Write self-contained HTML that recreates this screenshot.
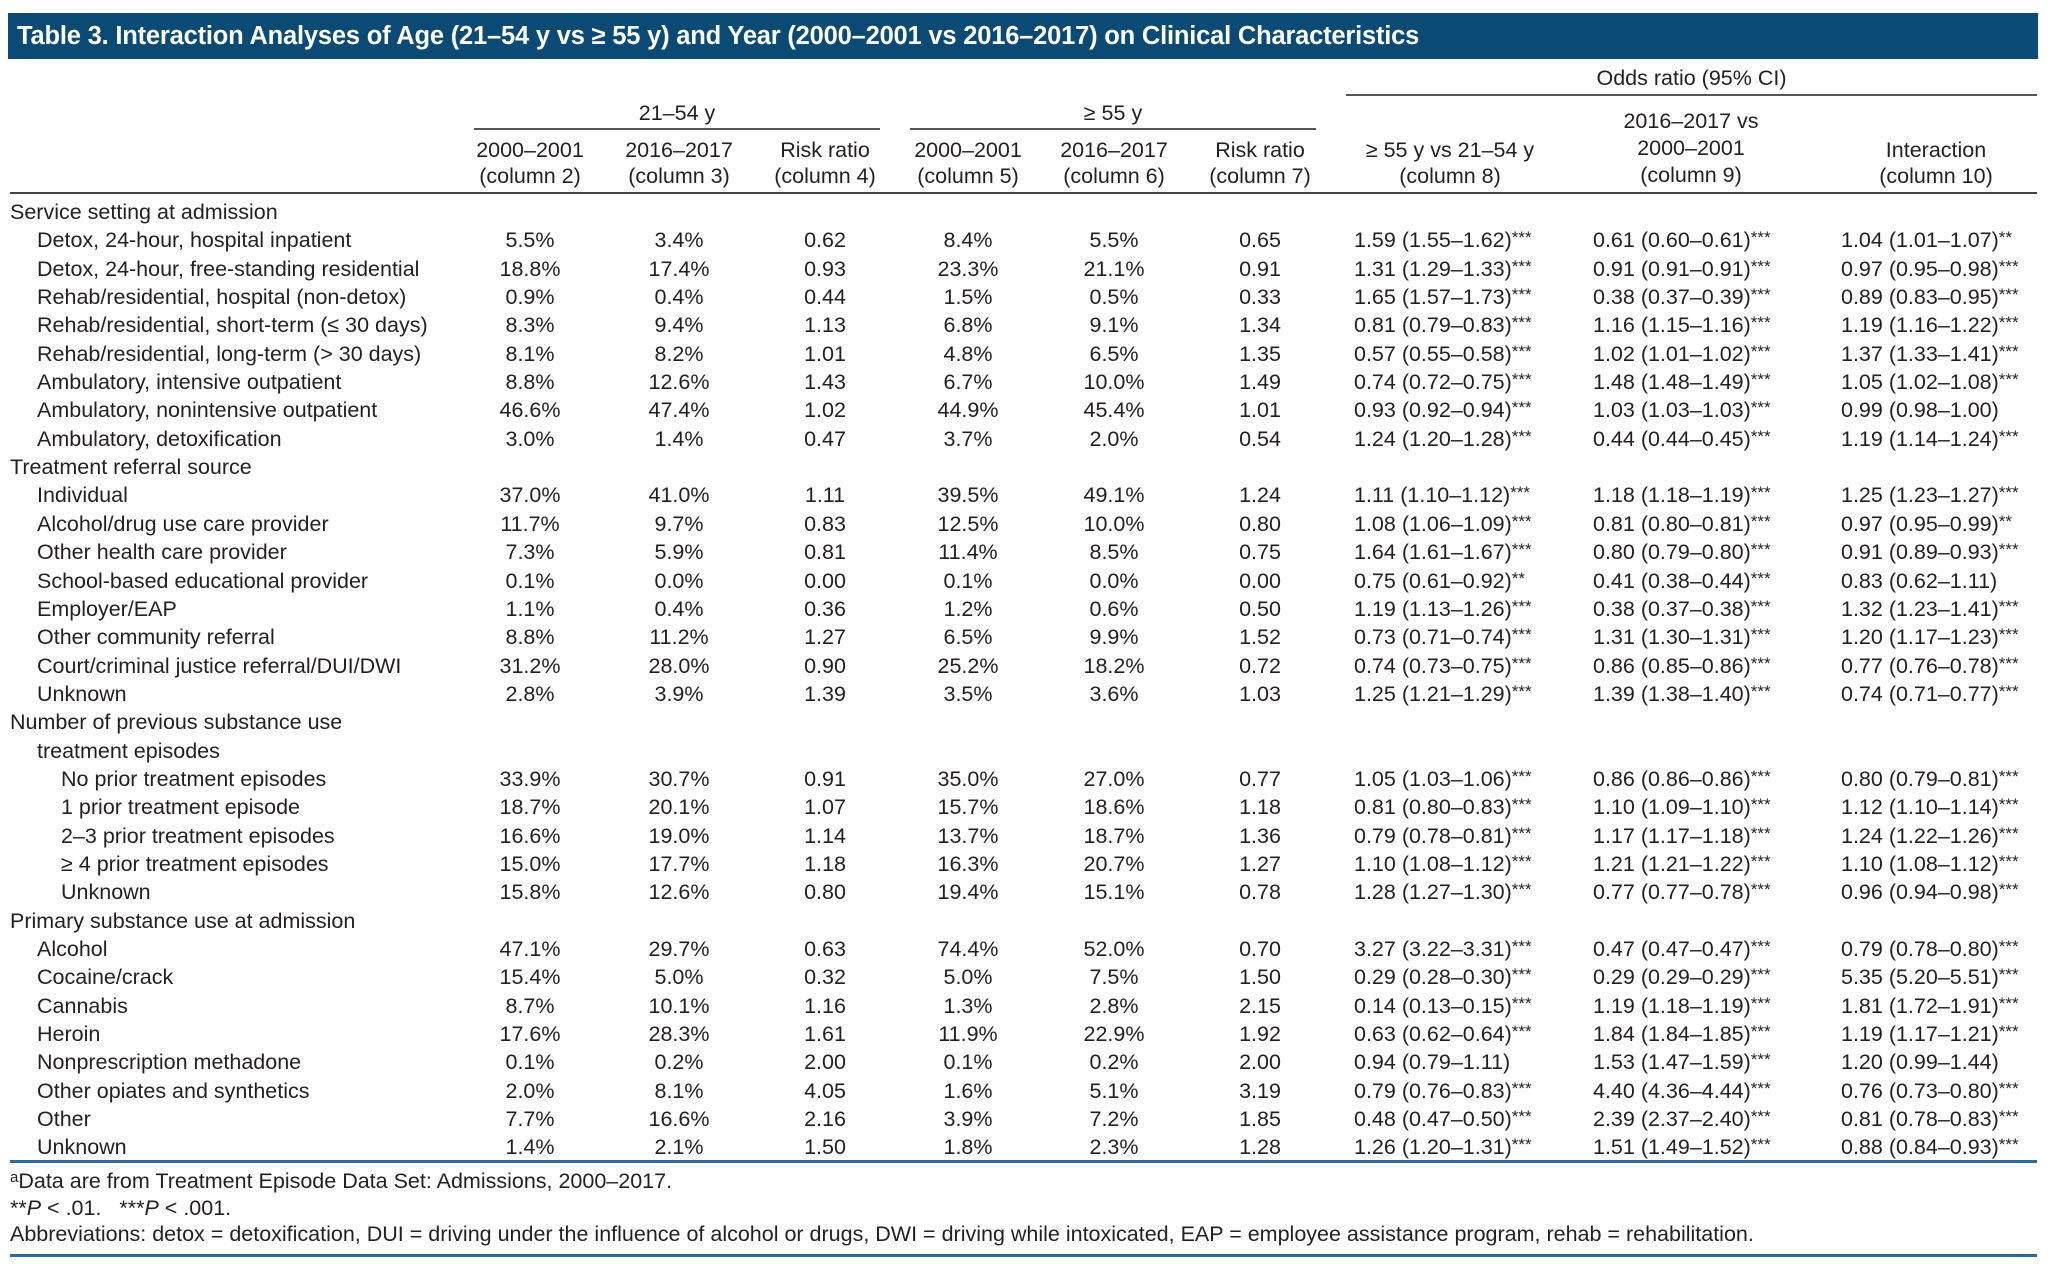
<!DOCTYPE html>
<html><head><meta charset="utf-8">
<style>
*{margin:0;padding:0;box-sizing:border-box}
body{width:2048px;height:1267px;background:#fff;position:relative;overflow:hidden;font-family:"Liberation Sans",sans-serif;color:#231f20;font-size:21.5px}
.bar{position:absolute;left:8px;top:13px;width:2030px;height:46px;background:#0b4a74}
.ttl{position:absolute;left:17px;top:13px;height:46px;line-height:46px;color:#fff;font-weight:bold;font-size:25.5px;white-space:nowrap;letter-spacing:-0.2px}
.ab{position:absolute;white-space:nowrap}
.hl{position:absolute;height:2px;background:#555}
.r{position:absolute;left:0;width:2048px;height:28px;line-height:28px}
.r span{position:absolute;top:2px;white-space:nowrap}
.l0{left:10px}.l1{left:37px}.l2{left:61px}
.c2,.c3,.c4,.c5,.c6,.c7{width:140px;text-align:center}
.c2{left:460px}.c3{left:609px}.c4{left:755px}.c5{left:898px}.c6{left:1044px}.c7{left:1190px}
.o8{left:1354px}.o9{left:1593px}.o10{left:1841px}
sup{font-size:17px;vertical-align:4px;line-height:0}
.hc{position:absolute;width:220px;text-align:center;line-height:26px}
.fn{position:absolute;left:10px;white-space:nowrap;font-size:21.5px}
</style></head><body>
<div class="bar"></div>
<div class="ttl">Table 3. Interaction Analyses of Age (21–54 y vs ≥ 55 y) and Year (2000–2001 vs 2016–2017) on Clinical Characteristics</div>

<div class="ab" style="left:1346px;width:691px;text-align:center;top:66px">Odds ratio (95% CI)</div>
<div class="hl" style="left:1346px;width:691px;top:94px"></div>
<div class="ab" style="left:474px;width:406px;text-align:center;top:101px">21–54 y</div>
<div class="hl" style="left:474px;width:406px;top:128px"></div>
<div class="ab" style="left:910px;width:406px;text-align:center;top:101px">≥ 55 y</div>
<div class="hl" style="left:910px;width:406px;top:128px"></div>

<div class="hc" style="left:420px;top:137px">2000–2001<br>(column 2)</div>
<div class="hc" style="left:569px;top:137px">2016–2017<br>(column 3)</div>
<div class="hc" style="left:715px;top:137px">Risk ratio<br>(column 4)</div>
<div class="hc" style="left:858px;top:137px">2000–2001<br>(column 5)</div>
<div class="hc" style="left:1004px;top:137px">2016–2017<br>(column 6)</div>
<div class="hc" style="left:1150px;top:137px">Risk ratio<br>(column 7)</div>
<div class="hc" style="left:1340px;top:137px">≥ 55 y vs 21–54 y<br>(column 8)</div>
<div class="hc" style="left:1581px;top:108px;line-height:27px">2016–2017 vs<br>2000–2001<br>(column 9)</div>
<div class="hc" style="left:1826px;top:137px">Interaction<br>(column 10)</div>
<div class="hl" style="left:10px;width:2027px;top:192px;height:2px;background:#444"></div>

<div class="r" style="top:196px"><span class="l0">Service setting at admission</span></div>
<div class="r" style="top:224px"><span class="l1">Detox, 24-hour, hospital inpatient</span><span class="c2">5.5%</span><span class="c3">3.4%</span><span class="c4">0.62</span><span class="c5">8.4%</span><span class="c6">5.5%</span><span class="c7">0.65</span><span class="o8">1.59 (1.55–1.62)<sup>***</sup></span><span class="o9">0.61 (0.60–0.61)<sup>***</sup></span><span class="o10">1.04 (1.01–1.07)<sup>**</sup></span></div>
<div class="r" style="top:253px"><span class="l1">Detox, 24-hour, free-standing residential</span><span class="c2">18.8%</span><span class="c3">17.4%</span><span class="c4">0.93</span><span class="c5">23.3%</span><span class="c6">21.1%</span><span class="c7">0.91</span><span class="o8">1.31 (1.29–1.33)<sup>***</sup></span><span class="o9">0.91 (0.91–0.91)<sup>***</sup></span><span class="o10">0.97 (0.95–0.98)<sup>***</sup></span></div>
<div class="r" style="top:281px"><span class="l1">Rehab/residential, hospital (non-detox)</span><span class="c2">0.9%</span><span class="c3">0.4%</span><span class="c4">0.44</span><span class="c5">1.5%</span><span class="c6">0.5%</span><span class="c7">0.33</span><span class="o8">1.65 (1.57–1.73)<sup>***</sup></span><span class="o9">0.38 (0.37–0.39)<sup>***</sup></span><span class="o10">0.89 (0.83–0.95)<sup>***</sup></span></div>
<div class="r" style="top:309px"><span class="l1">Rehab/residential, short-term (≤ 30 days)</span><span class="c2">8.3%</span><span class="c3">9.4%</span><span class="c4">1.13</span><span class="c5">6.8%</span><span class="c6">9.1%</span><span class="c7">1.34</span><span class="o8">0.81 (0.79–0.83)<sup>***</sup></span><span class="o9">1.16 (1.15–1.16)<sup>***</sup></span><span class="o10">1.19 (1.16–1.22)<sup>***</sup></span></div>
<div class="r" style="top:338px"><span class="l1">Rehab/residential, long-term (&gt; 30 days)</span><span class="c2">8.1%</span><span class="c3">8.2%</span><span class="c4">1.01</span><span class="c5">4.8%</span><span class="c6">6.5%</span><span class="c7">1.35</span><span class="o8">0.57 (0.55–0.58)<sup>***</sup></span><span class="o9">1.02 (1.01–1.02)<sup>***</sup></span><span class="o10">1.37 (1.33–1.41)<sup>***</sup></span></div>
<div class="r" style="top:366px"><span class="l1">Ambulatory, intensive outpatient</span><span class="c2">8.8%</span><span class="c3">12.6%</span><span class="c4">1.43</span><span class="c5">6.7%</span><span class="c6">10.0%</span><span class="c7">1.49</span><span class="o8">0.74 (0.72–0.75)<sup>***</sup></span><span class="o9">1.48 (1.48–1.49)<sup>***</sup></span><span class="o10">1.05 (1.02–1.08)<sup>***</sup></span></div>
<div class="r" style="top:394px"><span class="l1">Ambulatory, nonintensive outpatient</span><span class="c2">46.6%</span><span class="c3">47.4%</span><span class="c4">1.02</span><span class="c5">44.9%</span><span class="c6">45.4%</span><span class="c7">1.01</span><span class="o8">0.93 (0.92–0.94)<sup>***</sup></span><span class="o9">1.03 (1.03–1.03)<sup>***</sup></span><span class="o10">0.99 (0.98–1.00)</span></div>
<div class="r" style="top:423px"><span class="l1">Ambulatory, detoxification</span><span class="c2">3.0%</span><span class="c3">1.4%</span><span class="c4">0.47</span><span class="c5">3.7%</span><span class="c6">2.0%</span><span class="c7">0.54</span><span class="o8">1.24 (1.20–1.28)<sup>***</sup></span><span class="o9">0.44 (0.44–0.45)<sup>***</sup></span><span class="o10">1.19 (1.14–1.24)<sup>***</sup></span></div>
<div class="r" style="top:451px"><span class="l0">Treatment referral source</span></div>
<div class="r" style="top:479px"><span class="l1">Individual</span><span class="c2">37.0%</span><span class="c3">41.0%</span><span class="c4">1.11</span><span class="c5">39.5%</span><span class="c6">49.1%</span><span class="c7">1.24</span><span class="o8">1.11 (1.10–1.12)<sup>***</sup></span><span class="o9">1.18 (1.18–1.19)<sup>***</sup></span><span class="o10">1.25 (1.23–1.27)<sup>***</sup></span></div>
<div class="r" style="top:508px"><span class="l1">Alcohol/drug use care provider</span><span class="c2">11.7%</span><span class="c3">9.7%</span><span class="c4">0.83</span><span class="c5">12.5%</span><span class="c6">10.0%</span><span class="c7">0.80</span><span class="o8">1.08 (1.06–1.09)<sup>***</sup></span><span class="o9">0.81 (0.80–0.81)<sup>***</sup></span><span class="o10">0.97 (0.95–0.99)<sup>**</sup></span></div>
<div class="r" style="top:536px"><span class="l1">Other health care provider</span><span class="c2">7.3%</span><span class="c3">5.9%</span><span class="c4">0.81</span><span class="c5">11.4%</span><span class="c6">8.5%</span><span class="c7">0.75</span><span class="o8">1.64 (1.61–1.67)<sup>***</sup></span><span class="o9">0.80 (0.79–0.80)<sup>***</sup></span><span class="o10">0.91 (0.89–0.93)<sup>***</sup></span></div>
<div class="r" style="top:565px"><span class="l1">School-based educational provider</span><span class="c2">0.1%</span><span class="c3">0.0%</span><span class="c4">0.00</span><span class="c5">0.1%</span><span class="c6">0.0%</span><span class="c7">0.00</span><span class="o8">0.75 (0.61–0.92)<sup>**</sup></span><span class="o9">0.41 (0.38–0.44)<sup>***</sup></span><span class="o10">0.83 (0.62–1.11)</span></div>
<div class="r" style="top:593px"><span class="l1">Employer/EAP</span><span class="c2">1.1%</span><span class="c3">0.4%</span><span class="c4">0.36</span><span class="c5">1.2%</span><span class="c6">0.6%</span><span class="c7">0.50</span><span class="o8">1.19 (1.13–1.26)<sup>***</sup></span><span class="o9">0.38 (0.37–0.38)<sup>***</sup></span><span class="o10">1.32 (1.23–1.41)<sup>***</sup></span></div>
<div class="r" style="top:621px"><span class="l1">Other community referral</span><span class="c2">8.8%</span><span class="c3">11.2%</span><span class="c4">1.27</span><span class="c5">6.5%</span><span class="c6">9.9%</span><span class="c7">1.52</span><span class="o8">0.73 (0.71–0.74)<sup>***</sup></span><span class="o9">1.31 (1.30–1.31)<sup>***</sup></span><span class="o10">1.20 (1.17–1.23)<sup>***</sup></span></div>
<div class="r" style="top:650px"><span class="l1">Court/criminal justice referral/DUI/DWI</span><span class="c2">31.2%</span><span class="c3">28.0%</span><span class="c4">0.90</span><span class="c5">25.2%</span><span class="c6">18.2%</span><span class="c7">0.72</span><span class="o8">0.74 (0.73–0.75)<sup>***</sup></span><span class="o9">0.86 (0.85–0.86)<sup>***</sup></span><span class="o10">0.77 (0.76–0.78)<sup>***</sup></span></div>
<div class="r" style="top:678px"><span class="l1">Unknown</span><span class="c2">2.8%</span><span class="c3">3.9%</span><span class="c4">1.39</span><span class="c5">3.5%</span><span class="c6">3.6%</span><span class="c7">1.03</span><span class="o8">1.25 (1.21–1.29)<sup>***</sup></span><span class="o9">1.39 (1.38–1.40)<sup>***</sup></span><span class="o10">0.74 (0.71–0.77)<sup>***</sup></span></div>
<div class="r" style="top:706px"><span class="l0">Number of previous substance use</span></div>
<div class="r" style="top:735px"><span class="l1">treatment episodes</span></div>
<div class="r" style="top:763px"><span class="l2">No prior treatment episodes</span><span class="c2">33.9%</span><span class="c3">30.7%</span><span class="c4">0.91</span><span class="c5">35.0%</span><span class="c6">27.0%</span><span class="c7">0.77</span><span class="o8">1.05 (1.03–1.06)<sup>***</sup></span><span class="o9">0.86 (0.86–0.86)<sup>***</sup></span><span class="o10">0.80 (0.79–0.81)<sup>***</sup></span></div>
<div class="r" style="top:791px"><span class="l2">1 prior treatment episode</span><span class="c2">18.7%</span><span class="c3">20.1%</span><span class="c4">1.07</span><span class="c5">15.7%</span><span class="c6">18.6%</span><span class="c7">1.18</span><span class="o8">0.81 (0.80–0.83)<sup>***</sup></span><span class="o9">1.10 (1.09–1.10)<sup>***</sup></span><span class="o10">1.12 (1.10–1.14)<sup>***</sup></span></div>
<div class="r" style="top:820px"><span class="l2">2–3 prior treatment episodes</span><span class="c2">16.6%</span><span class="c3">19.0%</span><span class="c4">1.14</span><span class="c5">13.7%</span><span class="c6">18.7%</span><span class="c7">1.36</span><span class="o8">0.79 (0.78–0.81)<sup>***</sup></span><span class="o9">1.17 (1.17–1.18)<sup>***</sup></span><span class="o10">1.24 (1.22–1.26)<sup>***</sup></span></div>
<div class="r" style="top:848px"><span class="l2">≥ 4 prior treatment episodes</span><span class="c2">15.0%</span><span class="c3">17.7%</span><span class="c4">1.18</span><span class="c5">16.3%</span><span class="c6">20.7%</span><span class="c7">1.27</span><span class="o8">1.10 (1.08–1.12)<sup>***</sup></span><span class="o9">1.21 (1.21–1.22)<sup>***</sup></span><span class="o10">1.10 (1.08–1.12)<sup>***</sup></span></div>
<div class="r" style="top:876px"><span class="l2">Unknown</span><span class="c2">15.8%</span><span class="c3">12.6%</span><span class="c4">0.80</span><span class="c5">19.4%</span><span class="c6">15.1%</span><span class="c7">0.78</span><span class="o8">1.28 (1.27–1.30)<sup>***</sup></span><span class="o9">0.77 (0.77–0.78)<sup>***</sup></span><span class="o10">0.96 (0.94–0.98)<sup>***</sup></span></div>
<div class="r" style="top:905px"><span class="l0">Primary substance use at admission</span></div>
<div class="r" style="top:933px"><span class="l1">Alcohol</span><span class="c2">47.1%</span><span class="c3">29.7%</span><span class="c4">0.63</span><span class="c5">74.4%</span><span class="c6">52.0%</span><span class="c7">0.70</span><span class="o8">3.27 (3.22–3.31)<sup>***</sup></span><span class="o9">0.47 (0.47–0.47)<sup>***</sup></span><span class="o10">0.79 (0.78–0.80)<sup>***</sup></span></div>
<div class="r" style="top:961px"><span class="l1">Cocaine/crack</span><span class="c2">15.4%</span><span class="c3">5.0%</span><span class="c4">0.32</span><span class="c5">5.0%</span><span class="c6">7.5%</span><span class="c7">1.50</span><span class="o8">0.29 (0.28–0.30)<sup>***</sup></span><span class="o9">0.29 (0.29–0.29)<sup>***</sup></span><span class="o10">5.35 (5.20–5.51)<sup>***</sup></span></div>
<div class="r" style="top:990px"><span class="l1">Cannabis</span><span class="c2">8.7%</span><span class="c3">10.1%</span><span class="c4">1.16</span><span class="c5">1.3%</span><span class="c6">2.8%</span><span class="c7">2.15</span><span class="o8">0.14 (0.13–0.15)<sup>***</sup></span><span class="o9">1.19 (1.18–1.19)<sup>***</sup></span><span class="o10">1.81 (1.72–1.91)<sup>***</sup></span></div>
<div class="r" style="top:1018px"><span class="l1">Heroin</span><span class="c2">17.6%</span><span class="c3">28.3%</span><span class="c4">1.61</span><span class="c5">11.9%</span><span class="c6">22.9%</span><span class="c7">1.92</span><span class="o8">0.63 (0.62–0.64)<sup>***</sup></span><span class="o9">1.84 (1.84–1.85)<sup>***</sup></span><span class="o10">1.19 (1.17–1.21)<sup>***</sup></span></div>
<div class="r" style="top:1046px"><span class="l1">Nonprescription methadone</span><span class="c2">0.1%</span><span class="c3">0.2%</span><span class="c4">2.00</span><span class="c5">0.1%</span><span class="c6">0.2%</span><span class="c7">2.00</span><span class="o8">0.94 (0.79–1.11)</span><span class="o9">1.53 (1.47–1.59)<sup>***</sup></span><span class="o10">1.20 (0.99–1.44)</span></div>
<div class="r" style="top:1075px"><span class="l1">Other opiates and synthetics</span><span class="c2">2.0%</span><span class="c3">8.1%</span><span class="c4">4.05</span><span class="c5">1.6%</span><span class="c6">5.1%</span><span class="c7">3.19</span><span class="o8">0.79 (0.76–0.83)<sup>***</sup></span><span class="o9">4.40 (4.36–4.44)<sup>***</sup></span><span class="o10">0.76 (0.73–0.80)<sup>***</sup></span></div>
<div class="r" style="top:1103px"><span class="l1">Other</span><span class="c2">7.7%</span><span class="c3">16.6%</span><span class="c4">2.16</span><span class="c5">3.9%</span><span class="c6">7.2%</span><span class="c7">1.85</span><span class="o8">0.48 (0.47–0.50)<sup>***</sup></span><span class="o9">2.39 (2.37–2.40)<sup>***</sup></span><span class="o10">0.81 (0.78–0.83)<sup>***</sup></span></div>
<div class="r" style="top:1131px"><span class="l1">Unknown</span><span class="c2">1.4%</span><span class="c3">2.1%</span><span class="c4">1.50</span><span class="c5">1.8%</span><span class="c6">2.3%</span><span class="c7">1.28</span><span class="o8">1.26 (1.20–1.31)<sup>***</sup></span><span class="o9">1.51 (1.49–1.52)<sup>***</sup></span><span class="o10">0.88 (0.84–0.93)<sup>***</sup></span></div>

<div class="hl" style="left:10px;width:2027px;top:1160px;height:3px;background:#2f6a98"></div>
<div class="fn" style="top:1169px"><sup style="font-size:15px;vertical-align:6px">a</sup>Data are from Treatment Episode Data Set: Admissions, 2000–2017.</div>
<div class="fn" style="top:1196px">**<i>P</i> &lt; .01. &nbsp; ***<i>P</i> &lt; .001.</div>
<div class="fn" style="top:1222px">Abbreviations: detox = detoxification, DUI = driving under the influence of alcohol or drugs, DWI = driving while intoxicated, EAP = employee assistance program, rehab = rehabilitation.</div>
<div class="hl" style="left:10px;width:2027px;top:1254px;height:3px;background:#2f6a98"></div>
</body></html>
